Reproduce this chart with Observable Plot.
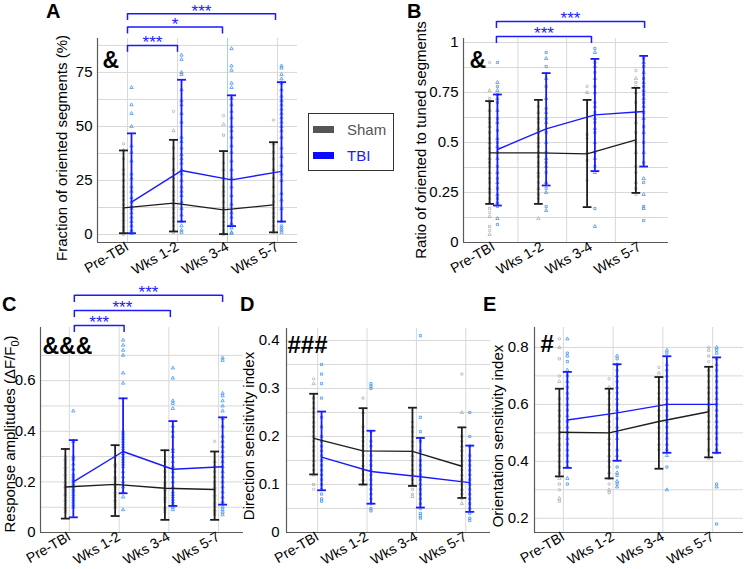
<!DOCTYPE html>
<html><head><meta charset="utf-8">
<script src="https://cdn.jsdelivr.net/npm/d3@7"></script>
<script src="https://cdn.jsdelivr.net/npm/@observablehq/plot@0.6"></script>
<style>
body{margin:0;background:#fff;}
#fig{position:relative;width:744px;height:569px;font-family:"Liberation Sans",Arial,sans-serif;overflow:hidden;background:#fff;}
.panel{position:absolute;}
.lbl{position:absolute;white-space:nowrap;color:#000;}
</style></head><body><div id="fig"></div>
<script>
const categories = ["Pre-TBI","Wks 1-2","Wks 3-4","Wks 5-7"];
const groups = ["Sham","TBI"];

// ---------- Panel A: Fraction of oriented segments (%) ----------
const A_sham = [
 [42,39,35,30,28,25,22,20,18,16,14,12,11,10,9,8,7,6,5,4,3,2,1,0.5,0],
 [57,48,40,35,30,26,22,20,18,16,14,12,10,8,6,4,2,1],
 [55,51,46,33,30,26,22,20,18,15,12,10,8,6,4,2,1,0],
 [53,42,38,35,30,26,22,18,15,12,10,8,6,4,2,1]
];
const A_tbi = [
 [68,60,56,50,41,38,34,28,26,22,20,17,15,13,12,10,8,6,4,2,1,0.5],
 [83,81,75,74,67,62,60,56,52,45,43,40,37,35,33,30,28,25,22,20,18,15,12,9,6,4,2,1],
 [86,78,76,70,68,63,60,57,54,50,48,45,41,38,34,30,26,22,18,14,10,8,5,3,1,0.5],
 [78,77,74,72,70,67,64,62,60,58,56,54,52,50,48,45,40,36,32,28,25,19,16,12,6,4,3,2,1]
];
const A_shamMean = [12.3,14.5,11.4,13.7];
const A_shamLo = [0.6,1.4,0.2,1.0];
const A_shamHi = [38.9,43.8,38.6,42.7];
const A_tbiMean = [15.0,29.6,25.3,29.2];
const A_tbiLo = [0.6,6.0,3.9,6.0];
const A_tbiHi = [46.8,71.6,64.4,70.5];
const A_yTicks = [0,25,50,75];
const A_grid = [0,12.5,25,37.5,50,62.5,75,87.5];
const A_brFrom = [0,0,0];
const A_brTo = [1,1.9,2.96];
const A_brLevel = [87.5,96.0,102.2];
const A_brLabel = ["***","*","***"];

// ---------- Panel B: Ratio of oriented to tuned segments ----------
const B_sham = [
 [0.9,0.76,0.72,0.7,0.66,0.62,0.6,0.58,0.55,0.52,0.5,0.47,0.45,0.42,0.4,0.38,0.35,0.32,0.3,0.27,0.25,0.22,0.2,0.17,0.15,0.13,0.08,0.06,0.04],
 [0.68,0.65,0.62,0.6,0.57,0.55,0.52,0.5,0.48,0.45,0.43,0.4,0.38,0.35,0.33,0.3,0.27,0.24,0.22,0.12],
 [0.78,0.75,0.54,0.52,0.45,0.41,0.31],
 [0.86,0.82,0.8,0.78,0.75,0.7,0.65,0.6,0.55,0.5,0.45,0.38,0.35,0.3,0.27,0.24]
];
const B_tbi = [
 [0.9,0.8,0.78,0.76,0.74,0.72,0.7,0.66,0.62,0.6,0.56,0.52,0.5,0.48,0.45,0.42,0.38,0.35,0.32,0.3,0.27,0.24,0.22,0.2,0.18,0.12,0.09],
 [0.95,0.92,0.88,0.82,0.78,0.72,0.67,0.65,0.62,0.6,0.55,0.5,0.45,0.42,0.4,0.38,0.35,0.3,0.27,0.25,0.18,0.16],
 [0.97,0.95,0.9,0.88,0.85,0.82,0.78,0.75,0.7,0.68,0.65,0.62,0.6,0.57,0.55,0.5,0.45,0.42,0.38,0.35,0.17,0.08],
 [0.92,0.9,0.88,0.85,0.82,0.8,0.78,0.76,0.74,0.72,0.7,0.68,0.65,0.62,0.58,0.55,0.5,0.45,0.4,0.32,0.3,0.24,0.18,0.17,0.11]
];
const B_shamMean = [0.448,0.448,0.443,0.513];
const B_shamLo = [0.193,0.193,0.177,0.248];
const B_shamHi = [0.707,0.713,0.713,0.773];
const B_tbiMean = [0.465,0.568,0.638,0.655];
const B_tbiLo = [0.185,0.285,0.357,0.38];
const B_tbiHi = [0.74,0.847,0.918,0.933];
const B_yTicks = [0,0.25,0.5,0.75,1];
const B_grid = [0.125,0.25,0.375,0.5,0.625,0.75,0.875,1];
const B_brFrom = [0.06,0.06];
const B_brTo = [2.01,3.1];
const B_brLevel = [1.03,1.105];
const B_brLabel = ["***","***"];

// ---------- Panel C: Response amplitudes ----------
const C_sham = [
 [0.3,0.29,0.28,0.27,0.26,0.25,0.24,0.23,0.22,0.21,0.2,0.19,0.18,0.18,0.17,0.16,0.15,0.15,0.14,0.13,0.12,0.11,0.1,0.09,0.08],
 [0.3,0.27,0.26,0.24,0.22,0.21,0.2,0.19,0.18,0.17,0.16,0.15,0.14,0.13,0.12,0.11,0.1],
 [0.28,0.26,0.24,0.22,0.2,0.19,0.18,0.17,0.16,0.15,0.14,0.13,0.12,0.1,0.09,0.08],
 [0.36,0.28,0.26,0.24,0.22,0.2,0.19,0.18,0.17,0.16,0.15,0.14,0.13,0.12,0.11,0.1,0.09,0.08,0.07]
];
const C_tbi = [
 [0.48,0.36,0.3,0.29,0.27,0.25,0.23,0.22,0.21,0.2,0.19,0.18,0.17,0.16,0.15,0.14,0.13,0.12,0.11,0.1],
 [0.76,0.74,0.72,0.7,0.63,0.59,0.4,0.39,0.38,0.37,0.36,0.35,0.34,0.33,0.32,0.31,0.3,0.29,0.28,0.27,0.26,0.24,0.22,0.2,0.18,0.16,0.14,0.09],
 [0.65,0.61,0.52,0.51,0.49,0.42,0.4,0.38,0.33,0.32,0.3,0.28,0.26,0.24,0.22,0.2,0.18,0.16,0.15,0.14,0.13,0.12,0.11,0.1,0.09],
 [0.69,0.68,0.55,0.54,0.52,0.5,0.48,0.45,0.42,0.38,0.36,0.34,0.32,0.3,0.28,0.26,0.24,0.22,0.2,0.18,0.16,0.14,0.12,0.1,0.09,0.08,0.07]
];
const C_shamMean = [0.18,0.19,0.175,0.17];
const C_shamLo = [0.055,0.065,0.05,0.05];
const C_shamHi = [0.33,0.345,0.325,0.32];
const C_tbiMean = [0.2,0.32,0.25,0.26];
const C_tbiLo = [0.06,0.155,0.105,0.11];
const C_tbiHi = [0.365,0.53,0.44,0.455];
const C_yTicks = [0,0.2,0.4,0.6];
const C_grid = [0.1,0.2,0.3,0.4,0.5,0.6,0.7];
const C_brFrom = [0.1,0.1,0.1];
const C_brTo = [1.1,2.03,3.08];
const C_brLevel = [0.818,0.877,0.937];
const C_brLabel = ["***","***","***"];

// ---------- Panel D: Direction sensitivity index ----------
const D_sham = [
 [0.32,0.31,0.28,0.27,0.26,0.25,0.24,0.23,0.22,0.21,0.2,0.2,0.19,0.18,0.17,0.16,0.15,0.14,0.13,0.12,0.1,0.09],
 [0.28,0.25,0.22,0.21,0.2,0.19,0.18,0.17,0.16,0.15,0.14,0.13,0.12,0.11,0.1],
 [0.23,0.22,0.21,0.2,0.19,0.18,0.17,0.16,0.15,0.14,0.13,0.12,0.11,0.1,0.09,0.08,0.075],
 [0.33,0.25,0.2,0.19,0.18,0.17,0.16,0.15,0.14,0.13,0.12,0.11,0.1,0.09,0.08,0.07,0.06]
];
const D_tbi = [
 [0.38,0.35,0.33,0.31,0.28,0.24,0.22,0.2,0.19,0.18,0.17,0.16,0.15,0.14,0.13,0.12,0.11,0.1,0.09,0.08,0.07,0.065],
 [0.31,0.305,0.3,0.21,0.19,0.18,0.16,0.15,0.14,0.13,0.12,0.11,0.1,0.09,0.08,0.07,0.06,0.05,0.045],
 [0.41,0.24,0.21,0.19,0.17,0.15,0.14,0.13,0.12,0.11,0.1,0.09,0.08,0.07,0.06,0.05,0.04,0.035,0.03],
 [0.25,0.2,0.18,0.16,0.15,0.14,0.13,0.12,0.11,0.1,0.09,0.08,0.07,0.06,0.05,0.04,0.03,0.025]
];
const D_shamMean = [0.196,0.17,0.169,0.138];
const D_shamLo = [0.121,0.1,0.097,0.072];
const D_shamHi = [0.289,0.259,0.26,0.219];
const D_tbiMean = [0.157,0.127,0.116,0.104];
const D_tbiLo = [0.088,0.06,0.052,0.043];
const D_tbiHi = [0.252,0.212,0.197,0.181];
const D_yTicks = [0,0.1,0.2,0.3,0.4];
const D_grid = [0.05,0.1,0.15,0.2,0.25,0.3,0.35,0.4];

// ---------- Panel E: Orientation sensitivity index ----------
const E_sham = [
 [0.83,0.8,0.76,0.7,0.68,0.62,0.6,0.58,0.56,0.54,0.52,0.5,0.48,0.46,0.44,0.42,0.4,0.38,0.36,0.34,0.32,0.3,0.27,0.26],
 [0.69,0.66,0.64,0.62,0.6,0.58,0.56,0.54,0.52,0.5,0.48,0.46,0.44,0.42,0.4,0.38,0.36,0.34,0.32,0.3,0.29],
 [0.73,0.71,0.68,0.66,0.64,0.62,0.6,0.58,0.56,0.54,0.52,0.5,0.48,0.46,0.44],
 [0.8,0.79,0.77,0.75,0.72,0.7,0.68,0.66,0.64,0.62,0.6,0.58,0.56,0.54,0.52,0.5,0.48,0.44,0.41]
];
const E_tbi = [
 [0.83,0.78,0.77,0.75,0.72,0.7,0.68,0.66,0.64,0.62,0.6,0.58,0.56,0.54,0.52,0.5,0.48,0.46,0.44,0.42,0.4,0.38,0.34,0.32],
 [0.77,0.76,0.74,0.72,0.7,0.68,0.66,0.64,0.62,0.6,0.58,0.55,0.52,0.5,0.48,0.44,0.42,0.38,0.36,0.35,0.33,0.32,0.31],
 [0.79,0.78,0.74,0.72,0.7,0.68,0.66,0.64,0.62,0.6,0.58,0.56,0.54,0.52,0.5,0.48,0.46,0.44,0.42,0.38,0.3],
 [0.8,0.79,0.78,0.76,0.74,0.72,0.7,0.68,0.66,0.64,0.62,0.6,0.58,0.56,0.54,0.52,0.5,0.48,0.46,0.44,0.43,0.32,0.31,0.18]
];
const E_shamMean = [0.502,0.5,0.54,0.574];
const E_shamLo = [0.347,0.34,0.374,0.414];
const E_shamHi = [0.655,0.655,0.696,0.732];
const E_tbiMean = [0.545,0.57,0.6,0.6];
const E_tbiLo = [0.377,0.402,0.43,0.43];
const E_tbiHi = [0.714,0.741,0.769,0.765];
const E_yTicks = [0.2,0.4,0.6,0.8];
const E_grid = [0.2,0.3,0.4,0.5,0.6,0.7,0.8];

// ---------- styling ----------
const SHAM_PT = "#ababab", TBI_PT = "#3b8ff0";
const SHAM_LINE = "#1e1e1e", TBI_LINE = "#1a1aff";
const GRID = "#d8d8d8", AXIS = "#5a5a5a";
const OFF = {Sham: -0.08, TBI: 0.08};
const CAP = 0.09;
const FONT = "Liberation Sans, Arial, sans-serif";

const fig = document.getElementById("fig");

function drawPanel(p) {
  const pts = [];
  [["Sham", p.sham], ["TBI", p.tbi]].forEach(([g, arrs]) => {
    arrs.forEach((arr, i) => arr.forEach((v, k) => pts.push({g, x: i + OFF[g], y: v, k})));
  });
  const stats = [];
  categories.forEach((c, i) => {
    stats.push({g: "Sham", x: i + OFF.Sham, mean: p.shamMean[i], lo: p.shamLo[i], hi: p.shamHi[i]});
    stats.push({g: "TBI", x: i + OFF.TBI, mean: p.tbiMean[i], lo: p.tbiLo[i], hi: p.tbiHi[i]});
  });
  const col = d => d.g === "Sham" ? SHAM_LINE : TBI_LINE;
  const br = (p.brFrom || []).map((f, j) => ({x1: f, x2: p.brTo[j], y: p.brLevel[j], yl: p.brLevel[j] - p.leg, label: p.brLabel[j]}));
  const shamPts = pts.filter(d => d.g === "Sham");
  const tbiPts = pts.filter(d => d.g === "TBI");
  const dotOpts = (fill, sym) => ({x: "x", y: "y", r: 1.25, stroke: fill, strokeWidth: 0.75, fill: "none", symbol: sym});
  const marks = [
    Plot.ruleY(p.grid, {stroke: GRID, strokeWidth: 1}),
    Plot.ruleX(p.gridX, {stroke: d => d === p.blueGrid ? "#a9cdf3" : GRID, strokeWidth: 1}),
    Plot.dot(shamPts.filter(d => d.k % 3 === 0), dotOpts(SHAM_PT, "circle")),
    Plot.dot(shamPts.filter(d => d.k % 3 === 1), dotOpts(SHAM_PT, "triangle")),
    Plot.dot(shamPts.filter(d => d.k % 3 === 2), dotOpts(SHAM_PT, "square")),
    Plot.dot(tbiPts.filter(d => d.k % 2 === 0), dotOpts(TBI_PT, p.tbiSym[0])),
    Plot.dot(tbiPts.filter(d => d.k % 2 === 1), dotOpts(TBI_PT, p.tbiSym[1])),
    Plot.ruleX(stats, {x: "x", y1: "lo", y2: "hi", stroke: col, strokeWidth: 1.8}),
    Plot.link(stats, {x1: d => d.x - CAP, x2: d => d.x + CAP, y1: "hi", y2: "hi", stroke: col, strokeWidth: 1.8}),
    Plot.link(stats, {x1: d => d.x - CAP, x2: d => d.x + CAP, y1: "lo", y2: "lo", stroke: col, strokeWidth: 1.8}),
    Plot.line(stats.filter(d => d.g === "Sham"), {x: "x", y: "mean", stroke: SHAM_LINE, strokeWidth: 1.4}),
    Plot.line(stats.filter(d => d.g === "TBI"), {x: "x", y: "mean", stroke: TBI_LINE, strokeWidth: 1.4}),
    Plot.ruleX([p.xDomain[0]], {y1: p.yDomain[0], y2: p.yDomain[1], stroke: AXIS, strokeWidth: 1.2}),
    Plot.ruleY([p.yDomain[0]], {x1: p.xDomain[0], x2: p.xDomain[1], stroke: AXIS, strokeWidth: 1.2}),
    Plot.link(br, {x1: "x1", x2: "x2", y1: "y", y2: "y", stroke: TBI_LINE, strokeWidth: 1.5}),
    Plot.ruleX(br, {x: "x1", y1: "yl", y2: "y", stroke: TBI_LINE, strokeWidth: 1.5}),
    Plot.ruleX(br, {x: "x2", y1: "yl", y2: "y", stroke: TBI_LINE, strokeWidth: 1.5}),
    Plot.text(br, {x: d => (d.x1 + d.x2) / 2, y: "y", text: "label", fill: TBI_LINE, fontSize: 17, lineAnchor: "middle", dy: -2.5}),
    Plot.text([p.mark], {text: d => d, frameAnchor: "top-left", textAnchor: "start", lineAnchor: "top", dx: p.markDx, dy: p.markDy, fontSize: p.markSize, fontWeight: "bold", fill: "#000"}),
    Plot.axisY({ticks: p.yTicks, tickFormat: d => String(d), tickSize: 0, tickPadding: p.tickPad, fontSize: 15, label: null}),
    Plot.axisX({ticks: [0,1,2,3], tickFormat: i => categories[i], tickSize: 0, tickPadding: 3, tickRotate: -30, fontSize: 14, label: null})
  ];
  const chart = Plot.plot({
    width: p.width, height: p.height,
    marginLeft: p.ml, marginRight: p.mr, marginTop: p.mt, marginBottom: p.mb,
    x: {type: "linear", domain: p.xDomain},
    y: {type: "linear", domain: p.yDomain},
    style: {fontFamily: FONT, background: "transparent", overflow: "visible", color: "#000"},
    marks
  });
  chart.classList.add("panel");
  chart.style.left = p.left + "px";
  chart.style.top = p.top + "px";
  fig.appendChild(chart);
}

drawPanel({left: 0, top: 0, width: 300, height: 290, ml: 97, mr: 3, mt: 38, mb: 48,
  xDomain: [-0.6, 3.4], yDomain: [-3.7, 90.7], yTicks: A_yTicks, grid: A_grid, gridX: [0,1,2,3], blueGrid: 2,
  sham: A_sham, tbi: A_tbi, shamMean: A_shamMean, shamLo: A_shamLo, shamHi: A_shamHi,
  tbiMean: A_tbiMean, tbiLo: A_tbiLo, tbiHi: A_tbiHi, tbiSym: ["triangle","triangle"],
  brFrom: A_brFrom, brTo: A_brTo, brLevel: A_brLevel, brLabel: A_brLabel, leg: 3.2,
  mark: "&", markDx: 5, markDy: 13, markSize: 23, tickPad: 5});

drawPanel({left: 400, top: 0, width: 344, height: 290, ml: 63, mr: 76, mt: 38, mb: 48,
  xDomain: [-0.616, 3.59], yDomain: [0, 1.02], yTicks: B_yTicks, grid: B_grid, gridX: [0.5,1.5,2.5], blueGrid: -9,
  sham: B_sham, tbi: B_tbi, shamMean: B_shamMean, shamLo: B_shamLo, shamHi: B_shamHi,
  tbiMean: B_tbiMean, tbiLo: B_tbiLo, tbiHi: B_tbiHi, tbiSym: ["square","triangle"],
  brFrom: B_brFrom, brTo: B_brTo, brLevel: B_brLevel, brLabel: B_brLabel, leg: 0.035,
  mark: "&", markDx: 6, markDy: 13, markSize: 23, tickPad: 5});

drawPanel({left: 0, top: 280, width: 245, height: 289, ml: 40, mr: 2, mt: 47, mb: 37,
  xDomain: [-0.58, 3.5], yDomain: [0, 0.81], yTicks: C_yTicks, grid: C_grid, gridX: [0,1,2,3], blueGrid: -9,
  sham: C_sham, tbi: C_tbi, shamMean: C_shamMean, shamLo: C_shamLo, shamHi: C_shamHi,
  tbiMean: C_tbiMean, tbiLo: C_tbiLo, tbiHi: C_tbiHi, tbiSym: ["triangle","triangle"],
  brFrom: C_brFrom, brTo: C_brTo, brLevel: C_brLevel, brLabel: C_brLabel, leg: 0.028,
  mark: "&&&", markDx: 2, markDy: 10, markSize: 23, tickPad: 5});

drawPanel({left: 245, top: 280, width: 245, height: 289, ml: 41, mr: 0, mt: 48, mb: 37,
  xDomain: [-0.63, 3.5], yDomain: [0, 0.425], yTicks: D_yTicks, grid: D_grid, gridX: [0,1,2,3], blueGrid: -9,
  sham: D_sham, tbi: D_tbi, shamMean: D_shamMean, shamLo: D_shamLo, shamHi: D_shamHi,
  tbiMean: D_tbiMean, tbiLo: D_tbiLo, tbiHi: D_tbiHi, tbiSym: ["square","square"],
  mark: "###", markDx: 1, markDy: 7, markSize: 24, tickPad: 7});

drawPanel({left: 490, top: 280, width: 254, height: 289, ml: 44, mr: 1, mt: 47, mb: 37,
  xDomain: [-0.58, 3.62], yDomain: [0.15, 0.87], yTicks: E_yTicks, grid: E_grid, gridX: [0,1,2,3], blueGrid: -9,
  sham: E_sham, tbi: E_tbi, shamMean: E_shamMean, shamLo: E_shamLo, shamHi: E_shamHi,
  tbiMean: E_tbiMean, tbiLo: E_tbiLo, tbiHi: E_tbiHi, tbiSym: ["triangle","square"],
  mark: "#", markDx: 6, markDy: 7, markSize: 24, tickPad: 6});

// ---------- text: panel letters, axis titles, legend ----------
function addText(html, css) {
  const d = document.createElement("div");
  d.className = "lbl";
  d.innerHTML = html;
  Object.assign(d.style, css);
  fig.appendChild(d);
  return d;
}
const letterCss = {fontSize: "20px", fontWeight: "bold", lineHeight: "20px"};
addText("A", {...letterCss, left: "46px", top: "1px"});
addText("B", {...letterCss, left: "407px", top: "1px"});
addText("C", {...letterCss, left: "2px", top: "294px"});
addText("D", {...letterCss, left: "240px", top: "294px"});
addText("E", {...letterCss, left: "483px", top: "294px"});

const titles = [
  ["Fraction of oriented segments (%)", 62, 148],
  ["Ratio of oriented to tuned segments", 421, 140],
  ["Response amplitudes (ΔF/F<sub style='font-size:11px'>0</sub>)", 12, 434],
  ["Direction sensitivity index", 249, 436],
  ["Orientation sensitivity index", 498, 436]
];
titles.forEach(([t, cx, cy]) => {
  addText(t, {fontSize: "15px", left: cx + "px", top: cy + "px", transform: "translate(-50%,-50%) rotate(-90deg)", lineHeight: "16px"});
});

// legend
const legend = document.createElement("div");
Object.assign(legend.style, {position: "absolute", left: "308px", top: "113px", width: "84px", height: "56px",
  border: "1.5px solid #333", background: "#fff", fontSize: "15px"});
fig.appendChild(legend);
const legendItems = [{name: groups[0], swatch: "#555", text: "#555"}, {name: groups[1], swatch: "#0a0aff", text: "#1a1aff"}];
legendItems.forEach((it, j) => {
  const row = document.createElement("div");
  Object.assign(row.style, {position: "absolute", left: "4px", top: (5 + j * 26) + "px", height: "20px", display: "flex", alignItems: "center"});
  row.innerHTML = `<span style="display:inline-block;width:21px;height:7px;background:${it.swatch};margin-right:13px"></span><span style="color:${it.text}">${it.name}</span>`;
  legend.appendChild(row);
});
</script>
</body></html>
